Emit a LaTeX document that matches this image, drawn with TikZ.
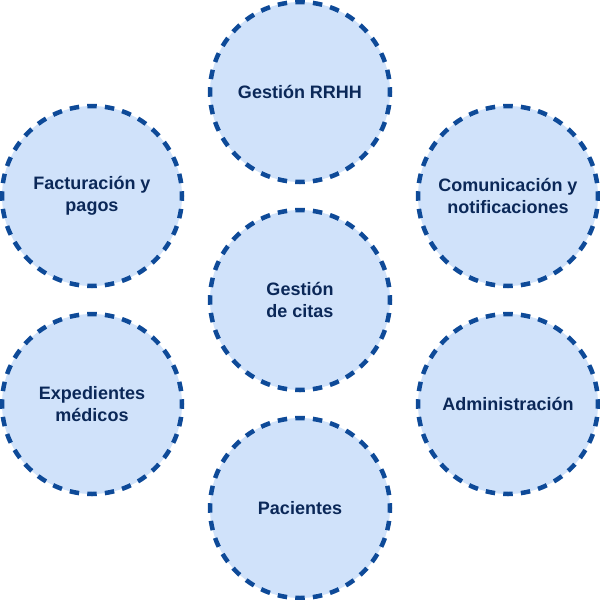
\documentclass[tikz,border=0pt]{standalone}
\usepackage{fontspec}
\setmainfont{Liberation Sans}
\definecolor{cfill}{HTML}{D0E2FA}
\definecolor{cline}{HTML}{0E4A98}
\definecolor{ctext}{HTML}{0B2858}
\begin{document}
\begin{tikzpicture}[x=1pt,y=-1pt,
  bubble/.style={circle, minimum size=180pt, inner sep=0pt, fill=cfill, draw=cline,
    line width=4.5pt, dash pattern=on 9.5pt off 8.171pt, dash phase=4.75pt, text=ctext,
    font=\fontsize{18}{22.5}\selectfont\bfseries, align=center}]
\useasboundingbox (0,0) rectangle (600,600);
\node[bubble] (rrhh) at (300,92) {Gestión RRHH};
\node[bubble] (fact) at (92,196) {Facturación y\\pagos};
\node[bubble] (com) at (508,196) {Comunicación y\\notificaciones};
\node[bubble] (citas) at (300,300) {Gestión\\de citas};
\node[bubble] (exp) at (92,404) {Expedientes\\médicos};
\node[bubble] (adm) at (508,404) {Administración};
\node[bubble] (pac) at (300,508) {Pacientes};
\end{tikzpicture}
\end{document}
